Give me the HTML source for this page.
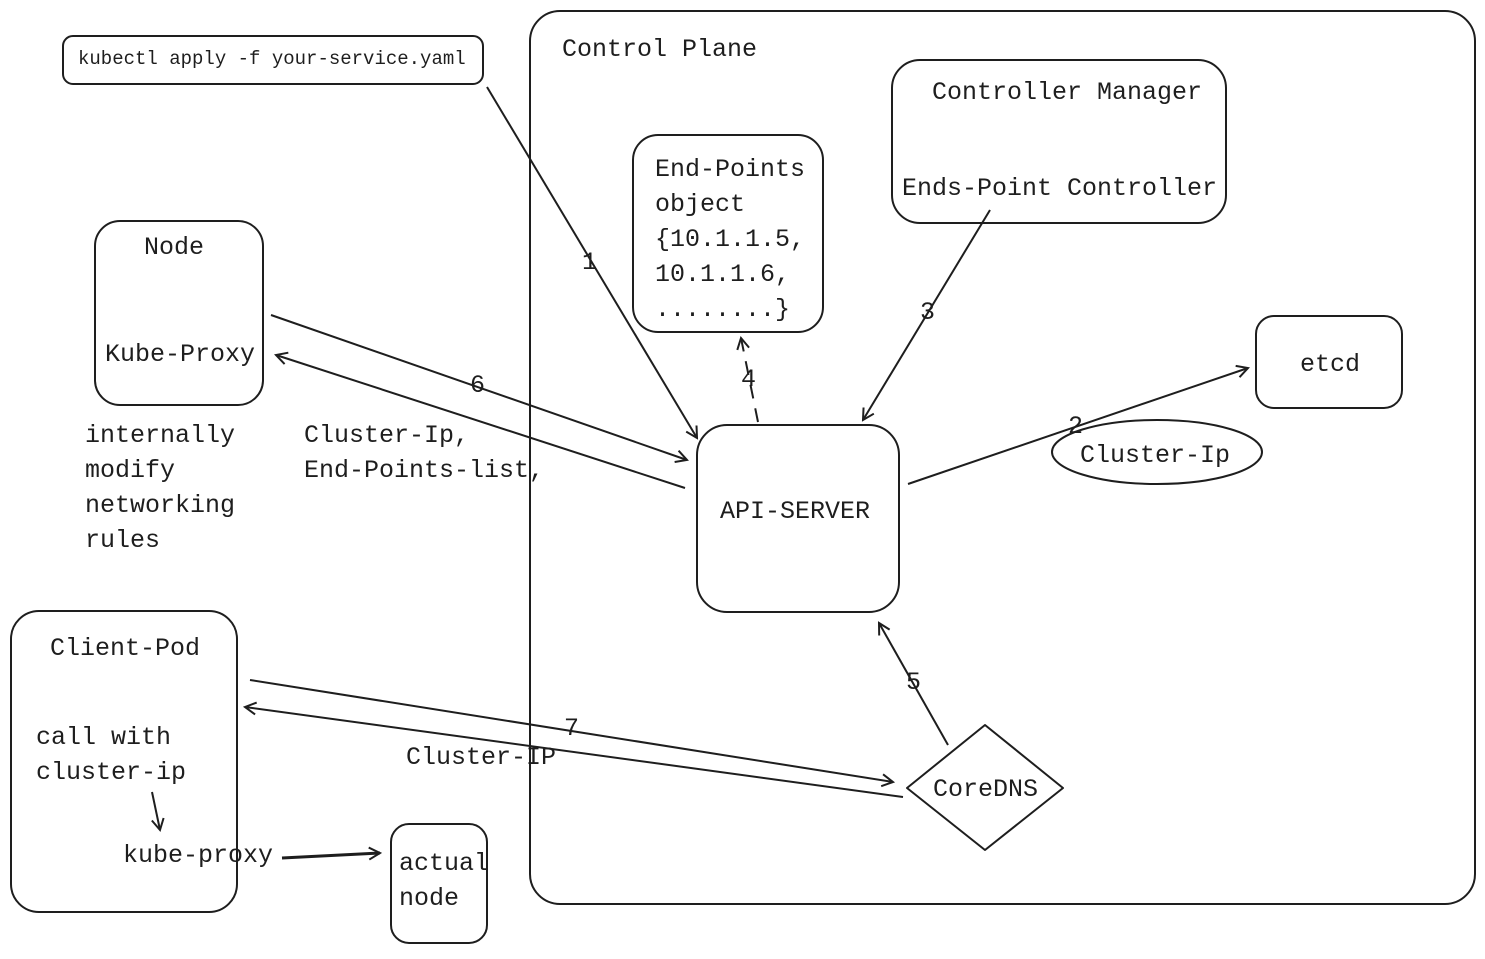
<!DOCTYPE html>
<html><head><meta charset="utf-8"><style>
html,body{margin:0;padding:0;background:#fff;}
text{font-family:"Liberation Mono",monospace;fill:#1e1e1e;}
</style></head><body>
<svg width="1485" height="954" viewBox="0 0 1485 954" xmlns="http://www.w3.org/2000/svg">
<defs>
<marker id="a" markerWidth="14" markerHeight="14" refX="12" refY="7" orient="auto" markerUnits="userSpaceOnUse">
<path d="M1,1 L12,7 L1,13" fill="none" stroke="#1e1e1e" stroke-width="2"/>
</marker>
</defs>
<g fill="none" stroke="#1e1e1e" stroke-width="2">
<rect x="530" y="11" width="945" height="893" rx="30"/>
<rect x="63" y="36" width="420" height="48" rx="10"/>
<rect x="633" y="135" width="190" height="197" rx="25"/>
<rect x="892" y="60" width="334" height="163" rx="28"/>
<rect x="95" y="221" width="168" height="184" rx="25"/>
<rect x="1256" y="316" width="146" height="92" rx="18"/>
<rect x="697" y="425" width="202" height="187" rx="30"/>
<ellipse cx="1157" cy="452" rx="105" ry="32"/>
<rect x="11" y="611" width="226" height="301" rx="28"/>
<rect x="391" y="824" width="96" height="119" rx="18"/>
<path d="M985,725 L1063,788 L985,850 L907,788 Z" stroke-linejoin="round"/>
<!-- arrows -->
<path d="M487,87 L697,438" marker-end="url(#a)"/>
<path d="M758,422 L741,338" stroke-dasharray="14 10" marker-end="url(#a)"/>
<path d="M990,210 L863,420" marker-end="url(#a)"/>
<path d="M908,484 L1248,368" marker-end="url(#a)"/>
<path d="M271,315 L687,460" marker-end="url(#a)"/>
<path d="M685,488 L276,355" marker-end="url(#a)"/>
<path d="M948,745 L879,623" marker-end="url(#a)"/>
<path d="M250,680 L893,782" marker-end="url(#a)"/>
<path d="M903,797 L245,707" marker-end="url(#a)"/>
<path d="M152,792 L160,830" marker-end="url(#a)"/>
<path d="M282,858 L380,853" stroke-width="3" marker-end="url(#a)"/>
</g>
<g font-size="25">
<text x="562" y="56">Control Plane</text>
<text x="78" y="64" font-size="19">kubectl apply -f your-service.yaml</text>
<text x="655" y="176">End-Points</text>
<text x="655" y="211">object</text>
<text x="655" y="246">{10.1.1.5,</text>
<text x="655" y="281">10.1.1.6,</text>
<text x="655" y="316">........}</text>
<text x="932" y="99">Controller Manager</text>
<text x="902" y="195">Ends-Point Controller</text>
<text x="144" y="254">Node</text>
<text x="105" y="361">Kube-Proxy</text>
<text x="1300" y="371">etcd</text>
<text x="1080" y="462">Cluster-Ip</text>
<text x="720" y="518">API-SERVER</text>
<text x="85" y="442">internally</text>
<text x="85" y="477">modify</text>
<text x="85" y="512">networking</text>
<text x="85" y="547">rules</text>
<text x="304" y="442">Cluster-Ip,</text>
<text x="304" y="477">End-Points-list,</text>
<text x="50" y="655">Client-Pod</text>
<text x="36" y="744">call with</text>
<text x="36" y="779">cluster-ip</text>
<text x="123" y="862">kube-proxy</text>
<text x="399" y="870">actual</text>
<text x="399" y="905">node</text>
<text x="933" y="796">CoreDNS</text>
<text x="406" y="764">Cluster-IP</text>
<text x="582" y="269">1</text>
<text x="1068" y="433">2</text>
<text x="920" y="319">3</text>
<text x="741" y="386">4</text>
<text x="906" y="689">5</text>
<text x="470" y="392">6</text>
<text x="564" y="735">7</text>
</g>
</svg>
</body></html>
